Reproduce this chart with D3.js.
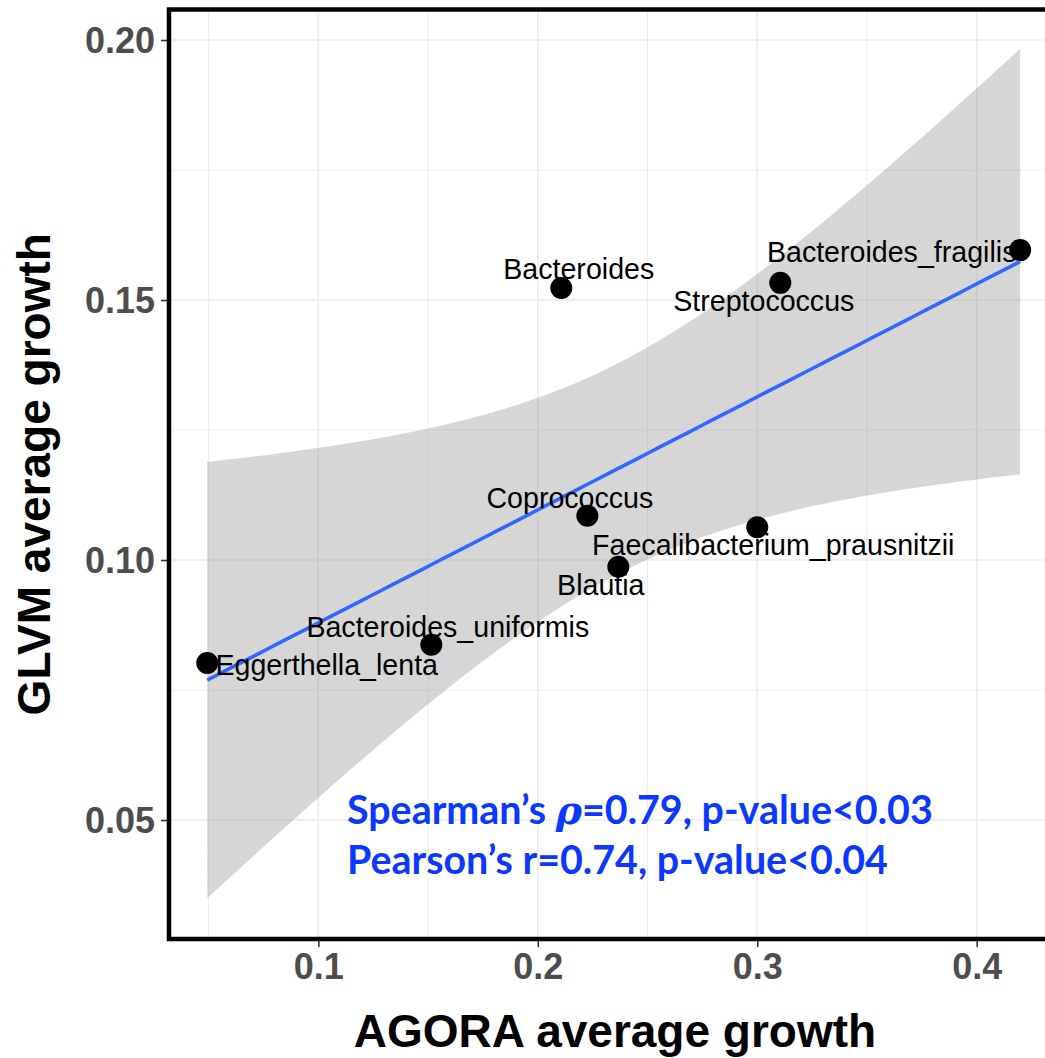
<!DOCTYPE html>
<html>
<head>
<meta charset="utf-8">
<script src="https://cdn.jsdelivr.net/npm/d3@7"></script>
<style>
  body { margin: 0; background: #fff; }
  svg { display: block; }
</style>
</head>
<body>
<svg id="chart" width="1045" height="1058"></svg>
<script>
// data
var species = ["Eggerthella_lenta", "Bacteroides_uniformis", "Bacteroides", "Coprococcus",
               "Blautia", "Faecalibacterium_prausnitzii", "Streptococcus", "Bacteroides_fragilis"];
var agora = [0.0494, 0.1515, 0.2107, 0.2226, 0.2367, 0.3000, 0.3105, 0.4198];
var glvm  = [0.0802, 0.0837, 0.1523, 0.1085, 0.0987, 0.1063, 0.1533, 0.1596];
var xTicks = [0.1, 0.2, 0.3, 0.4];
var yTicks = [0.05, 0.10, 0.15, 0.20];
var xMinor = [0.05, 0.15, 0.25, 0.35];
var yMinor = [0.075, 0.125, 0.175];
var statLines = ["Spearman\u2019s ", "Pearson\u2019s r=0.74, p-value<0.04"];

// label placement (pixel offsets from the point, like ggrepel gave)
var labelDx = [119.5, 16.5, 17.5, -17.5, -17.5, 16, -16.5, -128.5];
var labelDy = [12, -8, -9, -8, 28, 28, 28, 12];

var svg = d3.select("#chart");
var panelL = 169, panelT = 9.5, panelB = 939, panelR = 1061;

var x = d3.scaleLinear().domain([0.03197, 0.4384]).range([panelL, panelR]);
var y = d3.scaleLinear().domain([0.02712, 0.20587]).range([panelB, panelT]);

// linear fit + 95% band, as geom_smooth(method = "lm")
var n = agora.length;
var mx = d3.mean(agora), my = d3.mean(glvm);
var sxx = 0, sxy = 0;
for (var i = 0; i < n; i++) {
  sxx += (agora[i] - mx) * (agora[i] - mx);
  sxy += (agora[i] - mx) * (glvm[i] - my);
}
var slope = sxy / sxx, icpt = my - slope * mx;
var sse = 0;
for (var i = 0; i < n; i++) {
  var res = glvm[i] - (icpt + slope * agora[i]);
  sse += res * res;
}
var sdev = Math.sqrt(sse / (n - 2));
var tq = 2.446912; // qt(0.975, 6)
var xs = d3.range(80).map(function(k) {
  return d3.min(agora) + k * (d3.max(agora) - d3.min(agora)) / 79;
});
var fit = xs.map(function(v) {
  var se = sdev * Math.sqrt(1 / n + (v - mx) * (v - mx) / sxx);
  var f = icpt + slope * v;
  return {x: v, y: f, lo: f - tq * se, hi: f + tq * se};
});

// grid
var g = svg.append("g");
g.selectAll("line.xminor").data(xMinor).enter().append("line")
  .attr("x1", function(d) { return x(d); }).attr("x2", function(d) { return x(d); })
  .attr("y1", panelT).attr("y2", panelB)
  .style("stroke", "#ebebeb").style("stroke-width", 0.9);
g.selectAll("line.yminor").data(yMinor).enter().append("line")
  .attr("y1", function(d) { return y(d); }).attr("y2", function(d) { return y(d); })
  .attr("x1", panelL).attr("x2", panelR)
  .style("stroke", "#ebebeb").style("stroke-width", 0.9);
g.selectAll("line.xmajor").data(xTicks).enter().append("line")
  .attr("x1", function(d) { return x(d); }).attr("x2", function(d) { return x(d); })
  .attr("y1", panelT).attr("y2", panelB)
  .style("stroke", "#ebebeb").style("stroke-width", 1.6);
g.selectAll("line.ymajor").data(yTicks).enter().append("line")
  .attr("y1", function(d) { return y(d); }).attr("y2", function(d) { return y(d); })
  .attr("x1", panelL).attr("x2", panelR)
  .style("stroke", "#ebebeb").style("stroke-width", 1.6);

// confidence band
svg.append("path").datum(fit)
  .attr("d", d3.area()
    .x(function(d) { return x(d.x); })
    .y0(function(d) { return y(d.lo); })
    .y1(function(d) { return y(d.hi); }))
  .style("fill", "#999999").style("opacity", 0.4);

// fitted line
svg.append("path").datum(fit)
  .attr("d", d3.line()
    .x(function(d) { return x(d.x); })
    .y(function(d) { return y(d.y); }))
  .style("fill", "none").style("stroke", "#3366ff").style("stroke-width", 3.6);

// points
svg.selectAll("circle.pt").data(species).enter().append("circle")
  .attr("cx", function(d, i) { return x(agora[i]); })
  .attr("cy", function(d, i) { return y(glvm[i]); })
  .attr("r", 11)
  .style("fill", "#000");

// labels
svg.selectAll("text.lab").data(species).enter().append("text")
  .attr("x", function(d, i) { return x(agora[i]) + labelDx[i]; })
  .attr("y", function(d, i) { return y(glvm[i]) + labelDy[i]; })
  .attr("text-anchor", "middle")
  .style("font-family", "'Liberation Sans', Arial, sans-serif")
  .style("font-size", "28.6px")
  .style("fill", "#000")
  .text(function(d) { return d; });

// correlation text
var st = svg.append("g")
  .style("font-family", "Lato, 'Open Sans', sans-serif")
  .style("font-weight", "bold")
  .style("fill", "#0a38ff");
var t1 = st.append("text").attr("x", 347).attr("y", 824);
t1.append("tspan").text(statLines[0]);
t1.append("tspan").style("font-style", "italic").style("font-family", "'DejaVu Serif', serif").text("\u03c1");
t1.append("tspan").text("=0.79, p-value<0.03");
var t2 = st.append("text").attr("x", 347).attr("y", 874).text(statLines[1]);
st.style("font-size", "40px");
var w1 = t1.node().getComputedTextLength();
st.style("font-size", (40 * 586 / w1) + "px");

// axes
var xAxis = svg.append("g").attr("transform", "translate(0," + panelB + ")")
  .call(d3.axisBottom(x).tickValues(xTicks).tickSize(8).tickPadding(6).tickFormat(d3.format(".1f")));
var yAxis = svg.append("g").attr("transform", "translate(" + panelL + ",0)")
  .call(d3.axisLeft(y).tickValues(yTicks).tickSize(8).tickPadding(6).tickFormat(d3.format(".2f")));
[xAxis, yAxis].forEach(function(a) {
  a.select(".domain").remove();
  a.selectAll(".tick line").style("stroke", "#333").style("stroke-width", 1.6);
  a.selectAll(".tick text")
    .style("font-family", "'Liberation Sans', Arial, sans-serif")
    .style("font-weight", "bold")
    .style("font-size", "36px")
    .style("fill", "#4d4d4d");
});
xAxis.selectAll(".tick text").attr("dy", "0.71em");
yAxis.selectAll(".tick text").attr("dy", "0.35em");

// panel border (left, top, bottom; right edge is cut off)
svg.append("path")
  .attr("d", "M" + panelR + "," + panelT + "H" + panelL + "V" + panelB + "H" + panelR)
  .style("fill", "none").style("stroke", "#000").style("stroke-width", 4.5);

// axis titles
svg.append("text")
  .attr("x", (panelL + panelR) / 2).attr("y", 1047)
  .attr("text-anchor", "middle")
  .style("font-family", "'Liberation Sans', Arial, sans-serif")
  .style("font-weight", "bold").style("font-size", "46px")
  .text("AGORA average growth");
svg.append("text")
  .attr("transform", "translate(50," + (panelT + panelB) / 2 + ") rotate(-90)")
  .attr("text-anchor", "middle")
  .style("font-family", "'Liberation Sans', Arial, sans-serif")
  .style("font-weight", "bold").style("font-size", "46px")
  .text("GLVM average growth");
</script>
</body>
</html>
